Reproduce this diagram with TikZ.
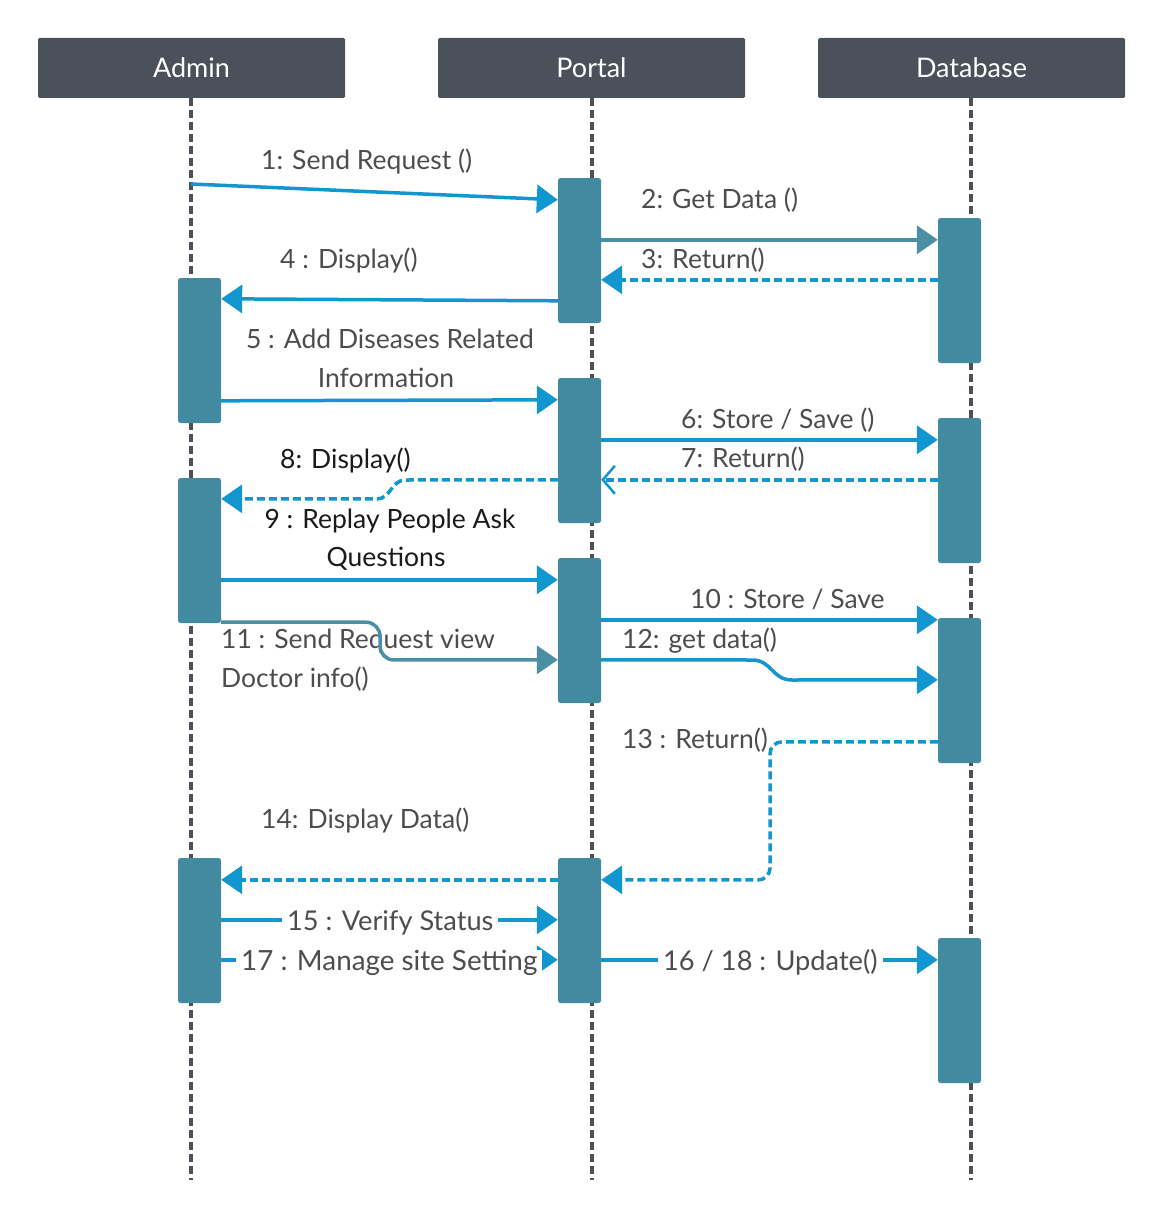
\documentclass[tikz,border=0pt]{standalone}
\usepackage{fontspec}
\setmainfont{Lato}
\usetikzlibrary{arrows.meta}
\definecolor{hdr}{HTML}{4A515B}
\definecolor{barc}{HTML}{418AA0}
\definecolor{msgc}{HTML}{1196CF}
\definecolor{tealc}{HTML}{4A8FA3}
\definecolor{txtc}{HTML}{4D4D4D}
\definecolor{blk}{HTML}{1A1A1A}
\begin{document}
\begin{tikzpicture}[x=1pt,y=-1pt,
  header/.style={fill=hdr, rounded corners=1.5pt, minimum width=307pt, minimum height=60pt, text=white, font=\fontsize{27}{30}\selectfont, inner sep=0pt},
  life/.style={draw=hdr, line width=3.5pt, dash pattern=on 8pt off 4pt},
  actbar/.style={fill=barc, rounded corners=2.5pt, minimum width=43pt, minimum height=145pt, inner sep=0pt},
  msgline/.style={draw=msgc, line width=3.5pt, -{Triangle[length=21pt,width=28pt]}},
  tealline/.style={draw=tealc, line width=3.5pt, -{Triangle[length=21pt,width=28pt]}},
  retline/.style={msgline, dash pattern=on 8pt off 4pt},
  openret/.style={draw=msgc, line width=3.5pt, dash pattern=on 8pt off 4pt, -{Straight Barb[length=12pt,width=28pt,line width=2.5pt]}},
  lbl/.style={text=txtc, font=\fontsize{26.5}{30}\selectfont, inner sep=0pt},
  lblk/.style={lbl, text=blk},
  onlbl/.style={lbl, fill=white, inner xsep=5pt, inner ysep=0pt, font=\fontsize{27.2}{30}\selectfont},
]
\useasboundingbox[fill=white] (0,0) rectangle (1164,1220);

% headers
\node[header] (hA) at (191.5,68) {Admin};
\node[header] (hP) at (591.5,68) {Portal};
\node[header] (hD) at (971.5,68) {Database};

% lifeline ends
\coordinate (eA) at (191,1180);
\coordinate (eP) at (592,1180);
\coordinate (eD) at (971,1180);
\draw[life] (hA.south -| eA) -- (eA);
\draw[life] (hP.south -| eP) -- (eP);
\draw[life] (hD.south -| eD) -- (eD);

% activation bars
\node[actbar] (p1) at (579.5,250.5) {};
\node[actbar] (d1) at (959.5,290.5) {};
\node[actbar] (a1) at (199.5,350.5) {};
\node[actbar] (p2) at (579.5,450.5) {};
\node[actbar] (d2) at (959.5,490.5) {};
\node[actbar] (a2) at (199.5,550.5) {};
\node[actbar] (p3) at (579.5,630.5) {};
\node[actbar] (d3) at (959.5,690.5) {};
\node[actbar] (a3) at (199.5,930.5) {};
\node[actbar] (p4) at (579.5,930.5) {};
\node[actbar] (d4) at (959.5,1010.5) {};

% labels
\node[lbl, anchor=base west] (l1) at (261,169) {1: Send Request ()};
\node[lbl, anchor=base west] (l2) at (641,208) {2: Get Data ()};
\node[lbl, anchor=base west] (l3) at (641,268) {3: Return()};
\node[lbl, anchor=base west] (l4) at (280,268) {4 : Display()};
\node[lbl, anchor=base] (l5a) at (390,348) {5 : Add Diseases Related};
\node[lbl, anchor=base] (l5b) at (386,387) {Information};
\node[lbl, anchor=base west] (l6) at (681,428) {6: Store / Save ()};
\node[lbl, anchor=base west] (l7) at (681,467) {7: Return()};
\node[lblk, anchor=base west] (l8) at (280,468) {8: Display()};
\node[lblk, anchor=base] (l9a) at (390,528) {9 : Replay People Ask};
\node[lblk, anchor=base] (l9b) at (386,566) {Questions};
\node[lbl, anchor=base west] (l10) at (690,608) {10 : Store / Save};
\node[lbl, anchor=base west] (l11a) at (221,648) {11 : Send Request view};
\node[lbl, anchor=base west] (l11b) at (221,687) {Doctor info()};
\node[lbl, anchor=base west] (l12) at (622,648) {12: get data()};
\node[lbl, anchor=base west] (l13) at (622,748) {13 : Return()};
\node[lbl, anchor=base west] (l14) at (261,828) {14: Display Data()};

% messages
\coordinate (s1) at (191,184);
\draw[msgline] (s1) -- ([yshift=-22pt]p1.north west);
\draw[tealline] ([yshift=-62pt]p1.north east) -- ([yshift=-22pt]d1.north west);
\draw[retline] ([yshift=-62pt]d1.north west) -- ([yshift=-102pt]p1.north east);
\draw[msgline] ([yshift=-123pt]p1.north west) -- ([yshift=-21pt]a1.north east);
\draw[msgline] ([yshift=-123pt]a1.north east) -- ([yshift=-22pt]p2.north west);
\draw[msgline] ([yshift=-62pt]p2.north east) -- ([yshift=-22pt]d2.north west);
\draw[openret] ([yshift=-62pt]d2.north west) -- ([yshift=-102pt]p2.north east);
\draw[retline] ([yshift=-102pt]p2.north west) -- (405,480) .. controls (392,480) and (390,499) .. (377,499) -- ([yshift=-21pt]a2.north east);
\draw[msgline] ([yshift=-102pt]a2.north east) -- ([yshift=-22pt]p3.north west);
\draw[msgline] ([yshift=-62pt]p3.north east) -- ([yshift=-2pt]d3.north west);
\draw[tealline, rounded corners=14pt] ([yshift=1pt]a2.south east) -| (380,660) -- ([yshift=-102pt]p3.north west);
\draw[msgline] ([yshift=-102pt]p3.north east) -- (752,660) .. controls (772,660) and (772,680) .. (792,680) -- ([yshift=-62pt]d3.north west);
\draw[retline, rounded corners=12pt] ([yshift=-124pt]d3.north west) -| (770,880) -- ([yshift=-22pt]p4.north east);
\draw[retline] ([yshift=-22pt]p4.north west) -- ([yshift=-22pt]a3.north east);
\draw[msgline] ([yshift=-62pt]a3.north east) -- ([yshift=-62pt]p4.north west);
\draw[msgline] ([yshift=-102pt]a3.north east) -- ([yshift=-102pt]p4.north west);
\draw[msgline] ([yshift=-102pt]p4.north east) -- ([yshift=-22pt]d4.north west);

% labels on lines
\node[onlbl, anchor=base west] (l15) at (282,930) {15 : Verify Status};
\node[onlbl, anchor=base west, font=\fontsize{27.8}{30}\selectfont] (l17) at (236,970) {17 : Manage site Setting};
\node[onlbl, anchor=base west] (l16) at (658,970) {16 / 18 : Update()};
\end{tikzpicture}
\end{document}
